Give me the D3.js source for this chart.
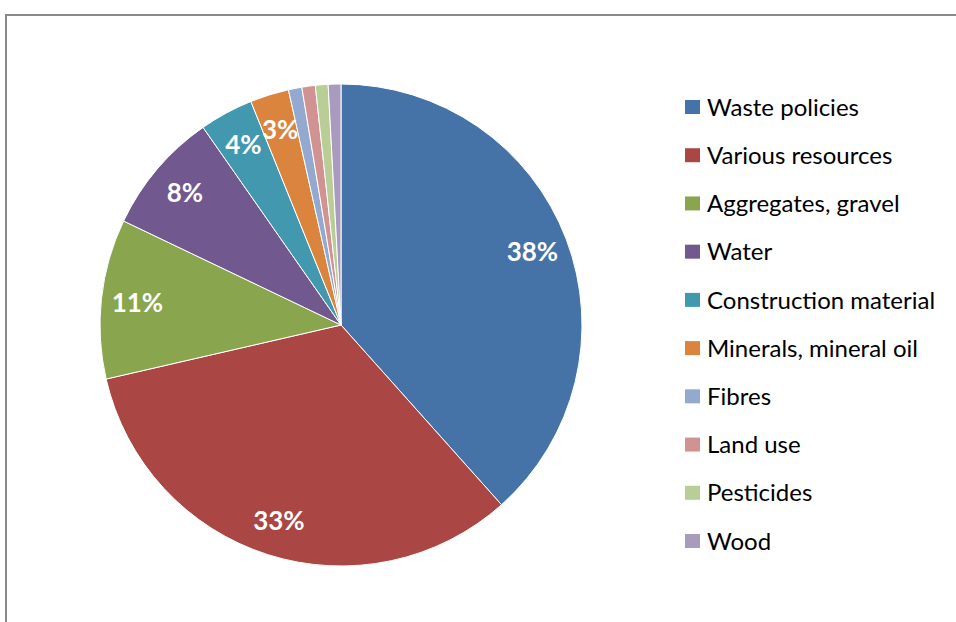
<!DOCTYPE html>
<html>
<head>
<meta charset="utf-8">
<script src="https://cdn.jsdelivr.net/npm/d3@7"></script>
<style>
  html, body { margin: 0; padding: 0; background: #fff; }
  svg { display: block; }
</style>
</head>
<body>
<svg id="chart" width="956" height="622"></svg>
<script>
// Share of policy areas (percent)
const categories = ["Waste policies", "Various resources", "Aggregates, gravel", "Water",
  "Construction material", "Minerals, mineral oil", "Fibres", "Land use", "Pesticides", "Wood"];
const values = [38.4, 33.0, 10.7, 8.2, 3.6, 2.6, 0.9, 0.9, 0.85, 0.85];
const colors = ["#4572A7", "#AA4643", "#89A54E", "#71588F", "#4198AF",
  "#DB843D", "#93A9CF", "#D19392", "#B9CD96", "#A99BBD"];
const labelThreshold = 2; // slices below this share get no label

const svg = d3.select("#chart");
const font = "Lato, 'Open Sans', sans-serif";

// chart area frame
svg.append("rect")
  .attr("x", 6).attr("y", 15)
  .attr("width", 1000).attr("height", 700)
  .attr("fill", "#fff")
  .attr("stroke", "#8a8a8a").attr("stroke-width", 2);

const cx = 341, cy = 325, R = 241;
const data = categories.map((c, i) => ({ name: c, value: values[i], color: colors[i] }));

const pie = d3.pie().value(d => d.value).sort(null);
const arc = d3.arc().innerRadius(0).outerRadius(R);
const labelArc = d3.arc().innerRadius(R * 0.85).outerRadius(R * 0.85);

const g = svg.append("g").attr("transform", `translate(${cx},${cy})`);
const arcs = pie(data);

g.selectAll("path.slice")
  .data(arcs)
  .join("path")
  .attr("class", "slice")
  .attr("d", arc)
  .attr("fill", d => d.data.color)
  .attr("stroke", "#fff")
  .attr("stroke-width", 1);

const fmt = d3.format(".0f");
g.selectAll("text.pct")
  .data(arcs.filter(d => d.data.value >= labelThreshold))
  .join("text")
  .attr("class", "pct")
  .attr("transform", d => `translate(${labelArc.centroid(d)})`)
  .attr("text-anchor", "middle")
  .attr("dy", "0.36em")
  .attr("font-family", font)
  .attr("font-weight", "bold")
  .attr("font-size", 26)
  .attr("fill", "#fff")
  .text(d => fmt(d.data.value) + "%");

// legend
const legendY = d3.scalePoint().domain(categories).range([107, 541]);
const legend = svg.append("g");
const items = legend.selectAll("g.item")
  .data(data)
  .join("g")
  .attr("class", "item")
  .attr("transform", d => `translate(685,${legendY(d.name)})`);

items.append("rect")
  .attr("x", 0).attr("y", -7)
  .attr("width", 15).attr("height", 14)
  .attr("fill", d => d.color);

items.append("text")
  .attr("x", 22).attr("y", 0)
  .attr("dy", "0.36em")
  .attr("font-family", font)
  .attr("font-size", 24)
  .attr("fill", "#000")
  .text(d => d.name);
</script>
</body>
</html>
